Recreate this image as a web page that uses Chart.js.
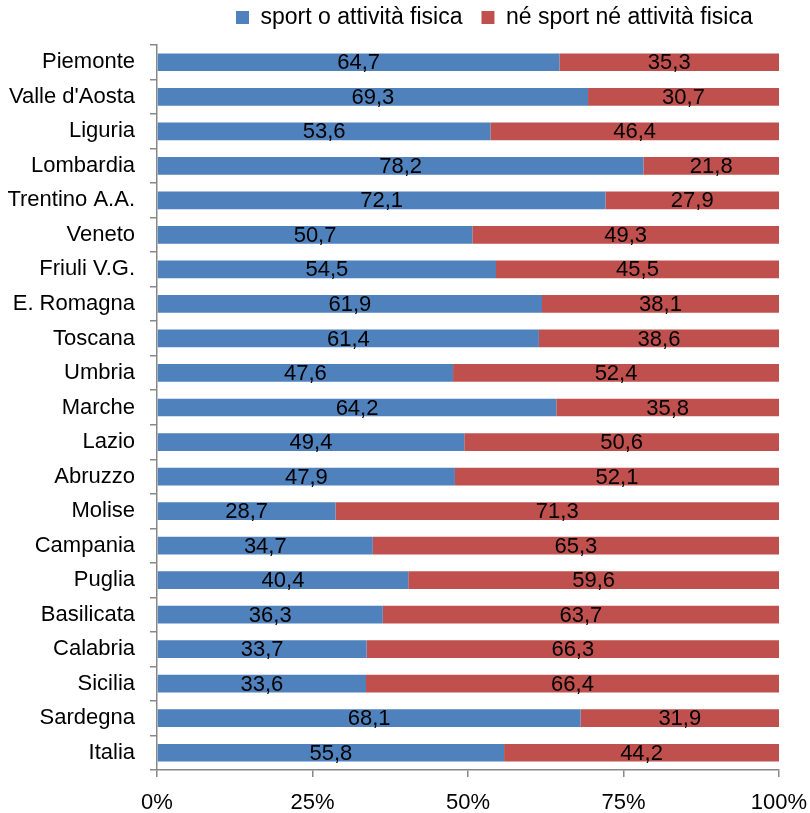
<!DOCTYPE html>
<html>
<head>
<meta charset="utf-8">
<title>Sport o attività fisica per regione</title>
<script src="https://cdn.jsdelivr.net/npm/chart.js@4/dist/chart.umd.min.js"></script>
<style>
  html, body { margin: 0; padding: 0; background: #ffffff; }
  #wrap { width: 810px; height: 813px; }
</style>
</head>
<body>
<div id="wrap"><canvas id="chart" width="810" height="813"></canvas></div>
<script>
// Regions (top to bottom) and the share of people in each group, in percent
const regions = ['Piemonte', "Valle d'Aosta", 'Liguria', 'Lombardia', 'Trentino A.A.', 'Veneto',
  'Friuli V.G.', 'E. Romagna', 'Toscana', 'Umbria', 'Marche', 'Lazio', 'Abruzzo', 'Molise',
  'Campania', 'Puglia', 'Basilicata', 'Calabria', 'Sicilia', 'Sardegna', 'Italia'];
const sportValues = [64.7, 69.3, 53.6, 78.2, 72.1, 50.7, 54.5, 61.9, 61.4, 47.6, 64.2,
  49.4, 47.9, 28.7, 34.7, 40.4, 36.3, 33.7, 33.6, 68.1, 55.8];
const noSportValues = [35.3, 30.7, 46.4, 21.8, 27.9, 49.3, 45.5, 38.1, 38.6, 52.4, 35.8,
  50.6, 52.1, 71.3, 65.3, 59.6, 63.7, 66.3, 66.4, 31.9, 44.2];
const seriesNames = ['sport o attività fisica', 'né sport né attività fisica'];
const percentTicks = [0, 25, 50, 75, 100];

const FONT = "'Liberation Sans', Arial, sans-serif";
const AXIS_GREY = '#888888';
const LEGEND_PAD = 19;

// Writes each segment's value (Italian decimal comma) centred inside it
const segmentLabels = {
  id: 'segmentLabels',
  afterDatasetsDraw(chart) {
    const ctx = chart.ctx;
    ctx.save();
    ctx.font = '22px ' + FONT;
    ctx.fillStyle = '#000000';
    ctx.textAlign = 'center';
    ctx.textBaseline = 'middle';
    chart.data.datasets.forEach((ds, di) => {
      chart.getDatasetMeta(di).data.forEach((bar, i) => {
        const txt = ds.data[i].toFixed(1).replace('.', ',');
        ctx.fillText(txt, (bar.x + bar.base) / 2, bar.y + 1);
      });
    });
    ctx.restore();
  }
};

// Places the legend row above the plot, starting a little right of the axis
const legendPlacement = {
  id: 'legendPlacement',
  afterLayout(chart) {
    const lg = chart.legend;
    if (!lg) return;
    const dx = (chart.chartArea.left + 79 - LEGEND_PAD) - lg.left;
    lg.left += dx; lg.right += dx;
    const dy = (17.5 - LEGEND_PAD - 11.5) - lg.top;
    lg.top += dy; lg.bottom += dy;
  }
};

new Chart(document.getElementById('chart'), {
  type: 'bar',
  data: {
    labels: regions,
    datasets: [
      { label: seriesNames[0], data: sportValues, backgroundColor: '#4F81BD' },
      { label: seriesNames[1], data: noSportValues, backgroundColor: '#C0504D' }
    ]
  },
  options: {
    indexAxis: 'y',
    responsive: false,
    animation: false,
    devicePixelRatio: 1,
    datasets: { bar: { categoryPercentage: 1, barPercentage: 0.513, borderWidth: 0 } },
    layout: { padding: { top: -7, left: 7, right: 2, bottom: 0 } },
    plugins: {
      legend: {
        position: 'top',
        align: 'start',
        labels: {
          boxWidth: 13, boxHeight: 13, padding: LEGEND_PAD,
          color: '#000000', font: { family: FONT, size: 23 }
        }
      },
      tooltip: { enabled: false }
    },
    scales: {
      x: {
        stacked: true,
        min: 0, max: 100,
        afterBuildTicks(scale) { scale.ticks = percentTicks.map(v => ({ value: v })); },
        afterFit(scale) { scale.height = 43; scale.paddingRight = 31; },
        ticks: {
          callback: v => v + '%',
          color: '#000000', font: { family: FONT, size: 22 }, padding: 13, maxRotation: 0
        },
        grid: { display: true, drawOnChartArea: false, drawTicks: true, tickLength: 7,
                color: AXIS_GREY, lineWidth: 1.5 },
        border: { display: true, color: AXIS_GREY, width: 1.5 }
      },
      y: {
        stacked: true,
        afterFit(scale) { scale.width = 150; },
        ticks: { color: '#000000', font: { family: FONT, size: 22 }, padding: 15, autoSkip: false },
        grid: { display: true, offset: true, drawOnChartArea: false, drawTicks: true, tickLength: 7,
                color: AXIS_GREY, lineWidth: 1.5 },
        border: { display: true, color: AXIS_GREY, width: 1.5 }
      }
    }
  },
  plugins: [segmentLabels, legendPlacement]
});
</script>
</body>
</html>
